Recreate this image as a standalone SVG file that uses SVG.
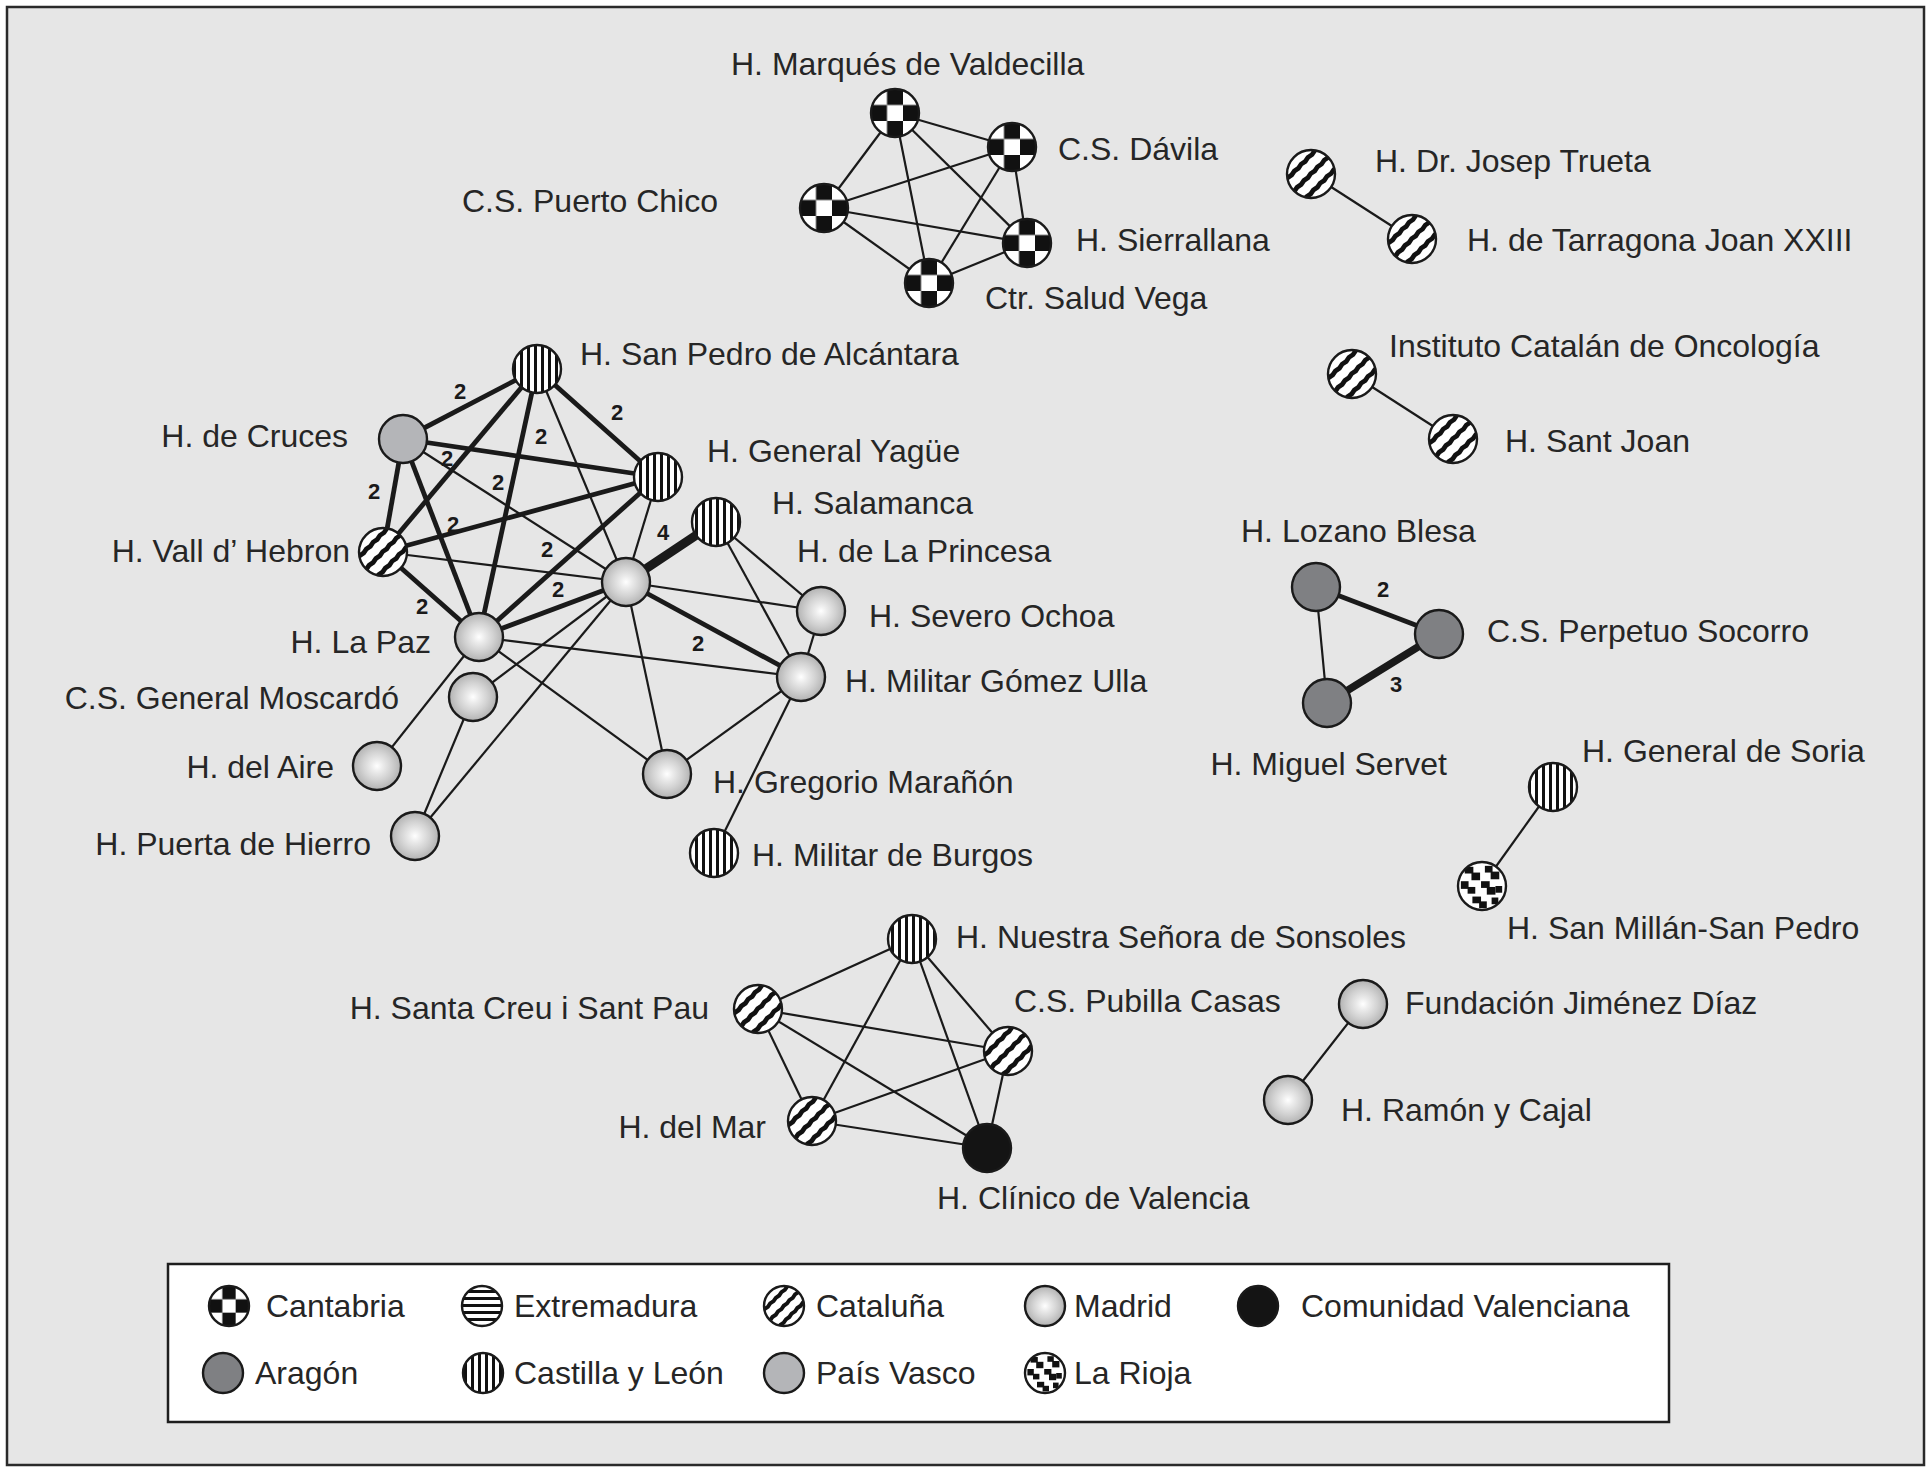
<svg xmlns="http://www.w3.org/2000/svg" width="1932" height="1471" viewBox="0 0 1932 1471">
<style>
.lbl{font-family:"Liberation Sans",Arial,sans-serif;font-size:32px;fill:#262626}
.end{text-anchor:end}
.w{font-family:"Liberation Sans",Arial,sans-serif;font-size:22px;font-weight:bold;fill:#1a1a1a;text-anchor:middle}
.e1{stroke:#1a1a1a;stroke-width:2.2;fill:none}
.e2{stroke:#1a1a1a;stroke-width:4.8;fill:none}
.e3{stroke:#1a1a1a;stroke-width:7.5;fill:none}
.e4{stroke:#1a1a1a;stroke-width:9;fill:none}
.nd{stroke:#1a1a1a;stroke-width:2.4}
.cant{fill:url(#pCant)}
.cat{fill:url(#pCat)}
.cyl{fill:url(#pCyl)}
.ext{fill:url(#pExt)}
.mad{fill:url(#gMad)}
.val{fill:#141414}
.ara{fill:#7f8083}
.pv{fill:#b4b5b8}
.rio{fill:url(#pRio)}
</style>
<defs>
<pattern id="pCant" patternUnits="objectBoundingBox" width="0.6667" height="0.6667" patternContentUnits="objectBoundingBox">
<rect width="0.6667" height="0.6667" fill="#fff"/>
<rect x="0.3333" width="0.3334" height="0.3333" fill="#111"/>
<rect y="0.3333" width="0.3333" height="0.3334" fill="#111"/>
</pattern>
<pattern id="pCat" patternUnits="objectBoundingBox" width="1" height="1" patternContentUnits="objectBoundingBox">
<rect width="1" height="1" fill="#fff"/>
<g fill="#111" transform="rotate(-45 0.5 0.5)">
<polygon points="-0.5,0.16 -0.4,0.18 -0.3,0.16 -0.2,0.18 -0.1,0.16 0,0.18 0.1,0.16 0.2,0.18 0.3,0.16 0.4,0.18 0.5,0.16 0.6,0.18 0.7,0.16 0.8,0.18 0.9,0.16 1,0.18 1.1,0.16 1.2,0.18 1.3,0.16 1.4,0.18 1.5,0.16 1.5,0.26 1.4,0.28 1.3,0.26 1.2,0.28 1.1,0.26 1,0.28 0.9,0.26 0.8,0.28 0.7,0.26 0.6,0.28 0.5,0.26 0.4,0.28 0.3,0.26 0.2,0.28 0.1,0.26 0,0.28 -0.1,0.26 -0.2,0.28 -0.3,0.26 -0.4,0.28 -0.5,0.26"/>
<polygon points="-0.5,0.44 -0.4,0.46 -0.3,0.44 -0.2,0.46 -0.1,0.44 0,0.46 0.1,0.44 0.2,0.46 0.3,0.44 0.4,0.46 0.5,0.44 0.6,0.46 0.7,0.44 0.8,0.46 0.9,0.44 1,0.46 1.1,0.44 1.2,0.46 1.3,0.44 1.4,0.46 1.5,0.44 1.5,0.54 1.4,0.56 1.3,0.54 1.2,0.56 1.1,0.54 1,0.56 0.9,0.54 0.8,0.56 0.7,0.54 0.6,0.56 0.5,0.54 0.4,0.56 0.3,0.54 0.2,0.56 0.1,0.54 0,0.56 -0.1,0.54 -0.2,0.56 -0.3,0.54 -0.4,0.56 -0.5,0.54"/>
<polygon points="-0.5,0.72 -0.4,0.74 -0.3,0.72 -0.2,0.74 -0.1,0.72 0,0.74 0.1,0.72 0.2,0.74 0.3,0.72 0.4,0.74 0.5,0.72 0.6,0.74 0.7,0.72 0.8,0.74 0.9,0.72 1,0.74 1.1,0.72 1.2,0.74 1.3,0.72 1.4,0.74 1.5,0.72 1.5,0.82 1.4,0.84 1.3,0.82 1.2,0.84 1.1,0.82 1,0.84 0.9,0.82 0.8,0.84 0.7,0.82 0.6,0.84 0.5,0.82 0.4,0.84 0.3,0.82 0.2,0.84 0.1,0.82 0,0.84 -0.1,0.82 -0.2,0.84 -0.3,0.82 -0.4,0.84 -0.5,0.82"/>
</g>
</pattern>
<pattern id="pCyl" patternUnits="userSpaceOnUse" width="7" height="7">
<rect width="7" height="7" fill="#fff"/>
<rect x="2" width="3" height="7" fill="#111"/>
</pattern>
<pattern id="pExt" patternUnits="userSpaceOnUse" width="7" height="7">
<rect width="7" height="7" fill="#fff"/>
<rect y="2" width="7" height="3" fill="#111"/>
</pattern>
<pattern id="pRio" patternUnits="objectBoundingBox" width="1" height="1" patternContentUnits="objectBoundingBox">
<rect width="1" height="1" fill="#fff"/>
<g fill="#111">
<rect x="0.14" y="0.1" width="0.18" height="0.14"/>
<rect x="0.28" y="0.22" width="0.18" height="0.16"/>
<rect x="0.06" y="0.4" width="0.16" height="0.16"/>
<rect x="0.2" y="0.52" width="0.16" height="0.14"/>
<rect x="0.56" y="0.08" width="0.16" height="0.14"/>
<rect x="0.68" y="0.2" width="0.18" height="0.16"/>
<rect x="0.48" y="0.4" width="0.18" height="0.14"/>
<rect x="0.6" y="0.52" width="0.18" height="0.16"/>
<rect x="0.78" y="0.5" width="0.14" height="0.14"/>
<rect x="0.3" y="0.72" width="0.18" height="0.14"/>
<rect x="0.44" y="0.82" width="0.16" height="0.14"/>
<rect x="0.7" y="0.74" width="0.14" height="0.14"/>
</g>
</pattern>
<radialGradient id="gMad" cx="0.5" cy="0.5" r="0.5">
<stop offset="0" stop-color="#ffffff"/>
<stop offset="0.25" stop-color="#ebebeb"/>
<stop offset="0.6" stop-color="#d2d2d2"/>
<stop offset="1" stop-color="#b2b2b2"/>
</radialGradient>
</defs>

<rect x="0" y="0" width="1932" height="1471" fill="#ffffff"/>
<rect x="7" y="7" width="1917" height="1458" fill="#e6e6e6" stroke="#2a2a2a" stroke-width="2.5"/>

<g id="connectors">
<!-- Cantabria K5 -->
<line class="e1" x1="895" y1="113" x2="1012" y2="147"/>
<line class="e1" x1="895" y1="113" x2="824" y2="208"/>
<line class="e1" x1="895" y1="113" x2="1027" y2="243"/>
<line class="e1" x1="895" y1="113" x2="929" y2="283"/>
<line class="e1" x1="1012" y1="147" x2="824" y2="208"/>
<line class="e1" x1="1012" y1="147" x2="1027" y2="243"/>
<line class="e1" x1="1012" y1="147" x2="929" y2="283"/>
<line class="e1" x1="824" y1="208" x2="1027" y2="243"/>
<line class="e1" x1="824" y1="208" x2="929" y2="283"/>
<line class="e1" x1="1027" y1="243" x2="929" y2="283"/>
<!-- pairs -->
<line class="e1" x1="1311" y1="174" x2="1412" y2="239"/>
<line class="e1" x1="1352" y1="374" x2="1453" y2="439"/>
<line class="e1" x1="1553" y1="787" x2="1482" y2="886"/>
<line class="e1" x1="1363" y1="1004" x2="1288" y2="1100"/>
<!-- Aragon -->
<line class="e2" x1="1316" y1="587" x2="1439" y2="634"/>
<line class="e3" x1="1439" y1="634" x2="1327" y2="703"/>
<line class="e1" x1="1316" y1="587" x2="1327" y2="703"/>
<!-- bottom K5 -->
<line class="e1" x1="912" y1="939" x2="758" y2="1009"/>
<line class="e1" x1="912" y1="939" x2="1008" y2="1051"/>
<line class="e1" x1="912" y1="939" x2="812" y2="1121"/>
<line class="e1" x1="912" y1="939" x2="987" y2="1148"/>
<line class="e1" x1="758" y1="1009" x2="1008" y2="1051"/>
<line class="e1" x1="758" y1="1009" x2="812" y2="1121"/>
<line class="e1" x1="758" y1="1009" x2="987" y2="1148"/>
<line class="e1" x1="1008" y1="1051" x2="812" y2="1121"/>
<line class="e1" x1="1008" y1="1051" x2="987" y2="1148"/>
<line class="e1" x1="812" y1="1121" x2="987" y2="1148"/>
<!-- central cluster thin -->
<line class="e1" x1="537" y1="369" x2="626" y2="582"/>
<line class="e1" x1="403" y1="439" x2="626" y2="582"/>
<line class="e1" x1="658" y1="477" x2="626" y2="582"/>
<line class="e1" x1="383" y1="552" x2="626" y2="582"/>
<line class="e1" x1="626" y1="582" x2="821" y2="611"/>
<line class="e1" x1="626" y1="582" x2="667" y2="774"/>
<line class="e1" x1="626" y1="582" x2="473" y2="697"/>
<line class="e1" x1="626" y1="582" x2="415" y2="836"/>
<line class="e1" x1="716" y1="522" x2="821" y2="611"/>
<line class="e1" x1="716" y1="522" x2="801" y2="677"/>
<line class="e1" x1="821" y1="611" x2="801" y2="677"/>
<line class="e1" x1="479" y1="637" x2="801" y2="677"/>
<line class="e1" x1="479" y1="637" x2="667" y2="774"/>
<line class="e1" x1="479" y1="637" x2="377" y2="766"/>
<line class="e1" x1="473" y1="697" x2="415" y2="836"/>
<line class="e1" x1="667" y1="774" x2="801" y2="677"/>
<line class="e1" x1="801" y1="677" x2="714" y2="853"/>
<!-- central cluster thick -->
<line class="e2" x1="537" y1="369" x2="403" y2="439"/>
<line class="e2" x1="537" y1="369" x2="658" y2="477"/>
<line class="e2" x1="537" y1="369" x2="383" y2="552"/>
<line class="e2" x1="537" y1="369" x2="479" y2="637"/>
<line class="e2" x1="403" y1="439" x2="658" y2="477"/>
<line class="e2" x1="403" y1="439" x2="383" y2="552"/>
<line class="e2" x1="403" y1="439" x2="479" y2="637"/>
<line class="e2" x1="383" y1="552" x2="658" y2="477"/>
<line class="e2" x1="383" y1="552" x2="479" y2="637"/>
<line class="e2" x1="479" y1="637" x2="658" y2="477"/>
<line class="e2" x1="479" y1="637" x2="626" y2="582"/>
<line class="e2" x1="626" y1="582" x2="801" y2="677"/>
<line class="e4" x1="626" y1="582" x2="716" y2="522"/>
<!-- weights -->
<g>
<text class="w" x="460" y="399">2</text>
<text class="w" x="617" y="420">2</text>
<text class="w" x="541" y="444">2</text>
<text class="w" x="447" y="466">2</text>
<text class="w" x="374" y="499">2</text>
<text class="w" x="498" y="490">2</text>
<text class="w" x="453" y="532">2</text>
<text class="w" x="547" y="557">2</text>
<text class="w" x="558" y="597">2</text>
<text class="w" x="422" y="614">2</text>
<text class="w" x="698" y="651">2</text>
<text class="w" x="663" y="540">4</text>
<text class="w" x="1383" y="597">2</text>
<text class="w" x="1396" y="692">3</text>
</g>
</g>

<g id="n_valdecilla"><circle class="nd cant" cx="895" cy="113" r="24"/><text class="lbl" x="731" y="75">H. Marqués de Valdecilla</text></g>
<g id="n_davila"><circle class="nd cant" cx="1012" cy="147" r="24"/><text class="lbl" x="1058" y="160">C.S. Dávila</text></g>
<g id="n_puertochico"><circle class="nd cant" cx="824" cy="208" r="24"/><text class="lbl end" x="718" y="212">C.S. Puerto Chico</text></g>
<g id="n_sierrallana"><circle class="nd cant" cx="1027" cy="243" r="24"/><text class="lbl" x="1076" y="251">H. Sierrallana</text></g>
<g id="n_vega"><circle class="nd cant" cx="929" cy="283" r="24"/><text class="lbl" x="985" y="309">Ctr. Salud Vega</text></g>

<g id="n_trueta"><circle class="nd cat" cx="1311" cy="174" r="24"/><text class="lbl" x="1375" y="172">H. Dr. Josep Trueta</text></g>
<g id="n_tarragona"><circle class="nd cat" cx="1412" cy="239" r="24"/><text class="lbl" x="1467" y="251">H. de Tarragona Joan XXIII</text></g>
<g id="n_ico"><circle class="nd cat" cx="1352" cy="374" r="24"/><text class="lbl" x="1389" y="357">Instituto Catalán de Oncología</text></g>
<g id="n_santjoan"><circle class="nd cat" cx="1453" cy="439" r="24"/><text class="lbl" x="1505" y="452">H. Sant Joan</text></g>

<g id="n_sanpedro"><circle class="nd cyl" cx="537" cy="369" r="24"/><text class="lbl" x="580" y="365">H. San Pedro de Alcántara</text></g>
<g id="n_cruces"><circle class="nd pv" cx="403" cy="439" r="24"/><text class="lbl end" x="348" y="447">H. de Cruces</text></g>
<g id="n_yague"><circle class="nd cyl" cx="658" cy="477" r="24"/><text class="lbl" x="707" y="462">H. General Yagüe</text></g>
<g id="n_salamanca"><circle class="nd cyl" cx="716" cy="522" r="24"/><text class="lbl" x="772" y="514">H. Salamanca</text></g>
<g id="n_princesa"><circle class="nd mad" cx="626" cy="582" r="24"/><text class="lbl" x="797" y="562">H. de La Princesa</text></g>
<g id="n_vallhebron"><circle class="nd cat" cx="383" cy="552" r="24"/><text class="lbl end" x="350" y="562">H. Vall d’ Hebron</text></g>
<g id="n_severo"><circle class="nd mad" cx="821" cy="611" r="24"/><text class="lbl" x="869" y="627">H. Severo Ochoa</text></g>
<g id="n_lapaz"><circle class="nd mad" cx="479" cy="637" r="24"/><text class="lbl end" x="431" y="653">H. La Paz</text></g>
<g id="n_gomezulla"><circle class="nd mad" cx="801" cy="677" r="24"/><text class="lbl" x="845" y="692">H. Militar Gómez Ulla</text></g>
<g id="n_moscardo"><circle class="nd mad" cx="473" cy="697" r="24"/><text class="lbl end" x="399" y="709">C.S. General Moscardó</text></g>
<g id="n_aire"><circle class="nd mad" cx="377" cy="766" r="24"/><text class="lbl end" x="334" y="778">H. del Aire</text></g>
<g id="n_gregorio"><circle class="nd mad" cx="667" cy="774" r="24"/><text class="lbl" x="713" y="793">H. Gregorio Marañón</text></g>
<g id="n_puerta"><circle class="nd mad" cx="415" cy="836" r="24"/><text class="lbl end" x="371" y="855">H. Puerta de Hierro</text></g>
<g id="n_burgos"><circle class="nd cyl" cx="714" cy="853" r="24"/><text class="lbl" x="752" y="866">H. Militar de Burgos</text></g>

<g id="n_lozano"><circle class="nd ara" cx="1316" cy="587" r="24"/><text class="lbl" x="1241" y="542">H. Lozano Blesa</text></g>
<g id="n_perpetuo"><circle class="nd ara" cx="1439" cy="634" r="24"/><text class="lbl" x="1487" y="642">C.S. Perpetuo Socorro</text></g>
<g id="n_servet"><circle class="nd ara" cx="1327" cy="703" r="24"/><text class="lbl end" x="1447" y="775">H. Miguel Servet</text></g>
<g id="n_soria"><circle class="nd cyl" cx="1553" cy="787" r="24"/><text class="lbl" x="1582" y="762">H. General de Soria</text></g>
<g id="n_sanmillan"><circle class="nd rio" cx="1482" cy="886" r="24"/><text class="lbl" x="1507" y="939">H. San Millán-San Pedro</text></g>

<g id="n_sonsoles"><circle class="nd cyl" cx="912" cy="939" r="24"/><text class="lbl" x="956" y="948">H. Nuestra Señora de Sonsoles</text></g>
<g id="n_santacreu"><circle class="nd cat" cx="758" cy="1009" r="24"/><text class="lbl end" x="709" y="1019">H. Santa Creu i Sant Pau</text></g>
<g id="n_pubilla"><circle class="nd cat" cx="1008" cy="1051" r="24"/><text class="lbl" x="1014" y="1012">C.S. Pubilla Casas</text></g>
<g id="n_delmar"><circle class="nd cat" cx="812" cy="1121" r="24"/><text class="lbl end" x="766" y="1138">H. del Mar</text></g>
<g id="n_clinico"><circle class="nd val" cx="987" cy="1148" r="24"/><text class="lbl" x="937" y="1209">H. Clínico de Valencia</text></g>
<g id="n_fundacion"><circle class="nd mad" cx="1363" cy="1004" r="24"/><text class="lbl" x="1405" y="1014">Fundación Jiménez Díaz</text></g>
<g id="n_ramon"><circle class="nd mad" cx="1288" cy="1100" r="24"/><text class="lbl" x="1341" y="1121">H. Ramón y Cajal</text></g>

<g id="legend">
<rect x="168" y="1264" width="1501" height="158" fill="#ffffff" stroke="#1e1e1e" stroke-width="2.5"/>
<circle class="nd cant" cx="229" cy="1306" r="20"/><text class="lbl" x="266" y="1317">Cantabria</text>
<circle class="nd ext" cx="482" cy="1306" r="20"/><text class="lbl" x="514" y="1317">Extremadura</text>
<circle class="nd cat" cx="784" cy="1306" r="20"/><text class="lbl" x="816" y="1317">Cataluña</text>
<circle class="nd mad" cx="1045" cy="1306" r="20"/><text class="lbl" x="1074" y="1317">Madrid</text>
<circle class="nd val" cx="1258" cy="1306" r="20"/><text class="lbl" x="1301" y="1317">Comunidad Valenciana</text>
<circle class="nd ara" cx="223" cy="1373" r="20"/><text class="lbl" x="255" y="1384">Aragón</text>
<circle class="nd cyl" cx="483" cy="1373" r="20"/><text class="lbl" x="514" y="1384">Castilla y León</text>
<circle class="nd pv" cx="784" cy="1373" r="20"/><text class="lbl" x="816" y="1384">País Vasco</text>
<circle class="nd rio" cx="1045" cy="1373" r="20"/><text class="lbl" x="1074" y="1384">La Rioja</text>
</g>
</svg>
